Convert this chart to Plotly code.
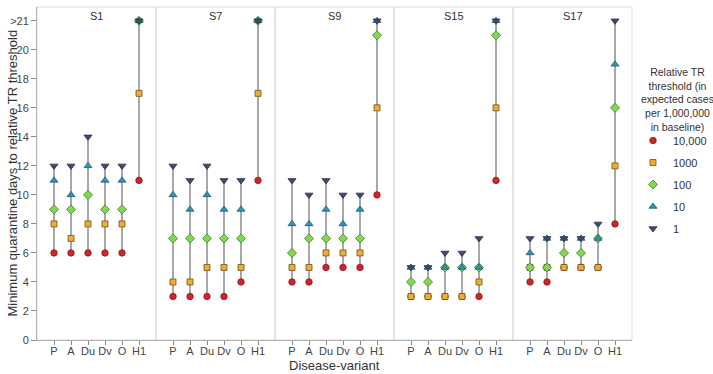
import plotly.graph_objects as go

scenarios = ["S1", "S7", "S9", "S15", "S17"]
variants = ["P", "A", "Du", "Dv", "O", "H1"]
thresholds = ["10,000", "1000", "100", "10", "1"]
ABOVE = 22  # plotted position of ">21"
y_tick_vals = [0, 2, 4, 6, 8, 10, 12, 14, 16, 18, 20, ABOVE]
y_tick_text = ["0", "2", "4", "6", "8", "10", "12", "14", "16", "18", "20", ">21"]
legend_title = "Relative TR<br>threshold (in<br>expected cases<br>per 1,000,000<br>in baseline)"

# days per scenario, per threshold, per variant (P, A, Du, Dv, O, H1)
s1_t10000 = [6, 6, 6, 6, 6, 11]
s1_t1000 = [8, 7, 8, 8, 8, 17]
s1_t100 = [9, 9, 10, 9, 9, ABOVE]
s1_t10 = [11, 10, 12, 11, 11, ABOVE]
s1_t1 = [12, 12, 14, 12, 12, ABOVE]

s7_t10000 = [3, 3, 3, 3, 4, 11]
s7_t1000 = [4, 4, 5, 5, 5, 17]
s7_t100 = [7, 7, 7, 7, 7, ABOVE]
s7_t10 = [10, 9, 10, 9, 9, ABOVE]
s7_t1 = [12, 11, 12, 11, 11, ABOVE]

s9_t10000 = [4, 4, 5, 5, 5, 10]
s9_t1000 = [5, 5, 6, 6, 6, 16]
s9_t100 = [6, 7, 7, 7, 7, 21]
s9_t10 = [8, 8, 9, 8, 9, ABOVE]
s9_t1 = [11, 10, 11, 10, 10, ABOVE]

s15_t10000 = [3, 3, 3, 3, 3, 11]
s15_t1000 = [3, 3, 3, 3, 4, 16]
s15_t100 = [4, 4, 5, 5, 5, 21]
s15_t10 = [5, 5, 5, 5, 5, ABOVE]
s15_t1 = [5, 5, 6, 6, 7, ABOVE]

s17_t10000 = [4, 4, 5, 5, 5, 8]
s17_t1000 = [5, 5, 5, 5, 5, 12]
s17_t100 = [5, 5, 6, 6, 7, 16]
s17_t10 = [6, 7, 7, 7, 7, 19]
s17_t1 = [7, 7, 7, 7, 8, ABOVE]

data = {
    "S1": [s1_t10000, s1_t1000, s1_t100, s1_t10, s1_t1],
    "S7": [s7_t10000, s7_t1000, s7_t100, s7_t10, s7_t1],
    "S9": [s9_t10000, s9_t1000, s9_t100, s9_t10, s9_t1],
    "S15": [s15_t10000, s15_t1000, s15_t100, s15_t10, s15_t1],
    "S17": [s17_t10000, s17_t1000, s17_t100, s17_t10, s17_t1],
}

symbols = ["circle", "square", "diamond", "triangle-up", "triangle-down"]
fills = ["#d2232a", "#f0ad2e", "#7fd84f", "#2e95b8", "#3e4d6e"]
edges = ["#8a1a1f", "#6b5320", "#4a7a30", "#1d5a70", "#26304a"]
sizes = [6.5, 6, 7, 7, 7]

FONT = "Liberation Sans, Arial, sans-serif"
fig = go.Figure()

n = len(scenarios)
L, R, T, B = 37, 81, 7, 34
W, H = 713, 374
PH = H - T - B
PW = W - L - R
for i, sc in enumerate(scenarios):
    xa = "x" if i == 0 else f"x{i+1}"
    series = data[sc]
    lx, ly = [], []
    for j, v in enumerate(variants):
        vals = [s[j] for s in series]
        lx += [v, v, None]
        ly += [min(vals), max(vals), None]
    fig.add_trace(go.Scatter(x=lx, y=ly, mode="lines", xaxis=xa, yaxis="y",
                             line=dict(color="#a8a8a8", width=2),
                             showlegend=False, hoverinfo="skip"))
    for k, th in enumerate(thresholds):
        fig.add_trace(go.Scatter(
            x=variants, y=series[k], mode="markers", xaxis=xa, yaxis="y",
            name=th, legendgroup=th, showlegend=(i == 0),
            marker=dict(symbol=symbols[k], color=fills[k], size=sizes[k],
                        line=dict(color=edges[k], width=0.8))))
    d0 = i / n
    d1 = (i + 1) / n
    fig.layout[("xaxis" if i == 0 else f"xaxis{i+1}")] = dict(
        domain=[d0, d1], anchor="y", type="category",
        categoryorder="array", categoryarray=variants,
        range=[-1, 6], showgrid=False, zeroline=False,
        showline=True, linecolor="#b0b0b0", linewidth=1,
        ticks="outside", ticklen=4, tickcolor="#888", tickwidth=1,
        tickangle=0, automargin=False, ticklabelstandoff=-3,
        tickfont=dict(size=11, color="#444", family=FONT),
    )
    fig.add_annotation(text=sc, x=(d0 + d1) / 2, xref="paper", y=1, yref="paper",
                       xanchor="center", yanchor="top", yshift=-1, showarrow=False,
                       font=dict(size=11, color="#333", family=FONT))
    fig.add_shape(type="rect", xref="paper", yref="paper", x0=d0, x1=d1, y0=0, y1=1,
                  line=dict(color="#dcdcdc", width=1), layer="below")

fig.update_layout(
    width=W, height=H,
    margin=dict(l=L, r=R, t=T, b=B, autoexpand=False),
    paper_bgcolor="white", plot_bgcolor="white",
    font=dict(family=FONT, color="#333"),
    yaxis=dict(range=[0, 22.95], tickvals=y_tick_vals, ticktext=y_tick_text,
               showgrid=False, zeroline=False, showline=True, linecolor="#b0b0b0",
               ticks="outside", ticklen=5, tickcolor="#888", automargin=False,
               tickfont=dict(size=11, color="#444", family=FONT)),
    legend=dict(x=1.0 + 1 / PW, xanchor="left", y=(H - B - 126) / PH, yanchor="top",
                font=dict(size=11, color="#333", family=FONT),
                tracegroupgap=3, bgcolor="rgba(0,0,0,0)"),
)
fig.add_annotation(text="Minimum quarantine days to relative TR threshold",
                   x=(12 - L) / PW, xref="paper", y=0.5, yref="paper",
                   xanchor="center", yanchor="middle", textangle=-90, showarrow=False,
                   font=dict(size=13, color="#333", family=FONT))
fig.add_annotation(text=legend_title, x=1.0 + 45 / PW, xref="paper",
                   y=(H - B - 99) / PH, yref="paper",
                   xanchor="center", yanchor="middle", showarrow=False,
                   font=dict(size=10.5, color="#333", family=FONT))
fig.add_annotation(text="Disease-variant", x=0.5, xref="paper", y=0, yref="paper",
                   xanchor="center", yanchor="top", yshift=-16, showarrow=False,
                   font=dict(size=13, color="#333", family=FONT))

fig.write_html("out.html", config={"displayModeBar": False},
               post_script="document.body.style.margin='0px';")
